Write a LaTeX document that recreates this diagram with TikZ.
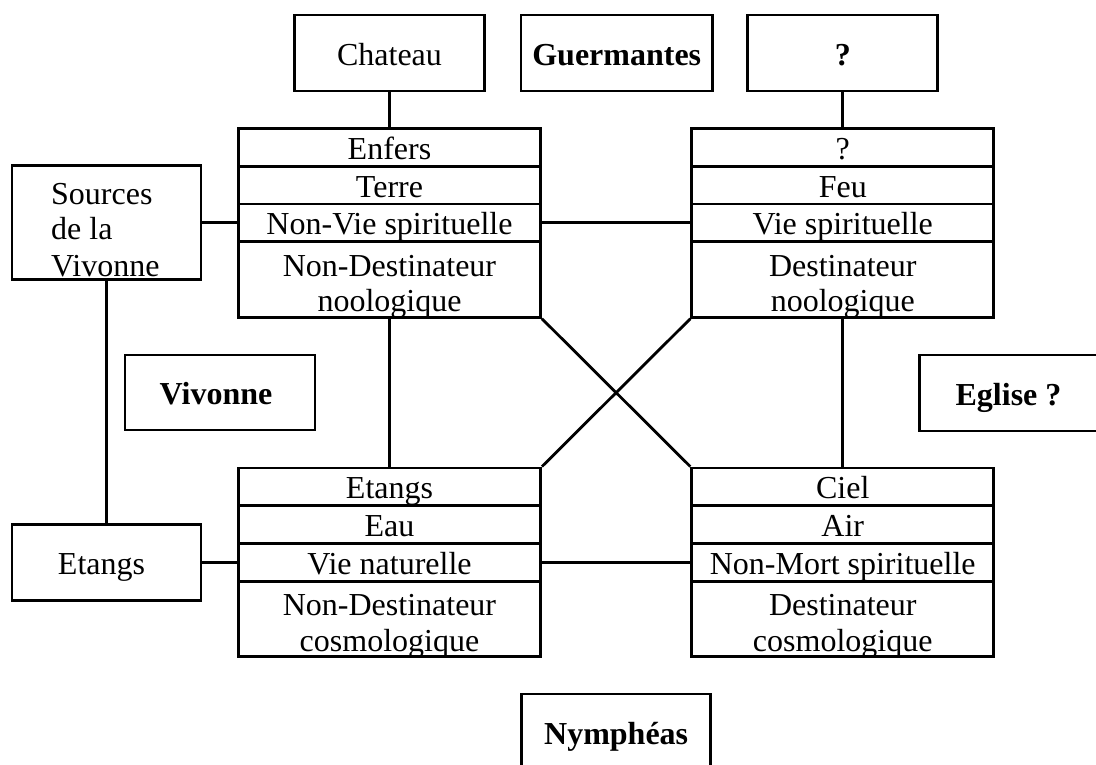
\documentclass[tikz,border=0pt]{standalone}
\usepackage{fontspec}
\setmainfont{Liberation Serif}
\begin{document}
\begin{tikzpicture}[x=1pt,y=-1pt,
  font=\fontsize{32pt}{35pt}\selectfont,
  box/.style={draw=black, line width=2.8pt, inner sep=0pt, text height=25pt, text depth=1pt},
  cell/.style={box, minimum width=302pt, minimum height=37.7pt},
  bigcell/.style={box, minimum width=302pt, minimum height=75.7pt},
  small/.style={box, minimum width=190pt, minimum height=76pt},
  txt/.style={inner sep=0pt},
  link/.style={line width=2.8pt}]
\useasboundingbox (0,0) rectangle (1096,764);
\fill[white] (0,0) rectangle (1096,764);
\clip (0,0) rectangle (1096,764);

% top small boxes
\node[small] (chateau) at (389.5,53) {Chateau};
\node[small, minimum width=191.5pt, font=\fontsize{32pt}{35pt}\selectfont\bfseries] (guerm) at (616.75,53) {Guermantes};
\node[small, font=\fontsize{32pt}{35pt}\selectfont\bfseries] (qtop) at (842.75,53) {?};

% top-left table
\node[cell] (tl1) at (389.5,147.35) {Enfers};
\node[cell] (tl2) at (389.5,185.05) {Terre};
\node[cell] (tl3) at (389.5,222.75) {Non-Vie spirituelle};
\node[bigcell] (tl4) at (389.5,279.45) {};
\node[txt, anchor=base] (tl4a) at ([yshift=2.75pt]tl4.center) {Non-Destinateur};
\node[txt, anchor=base] (tl4b) at ([yshift=-32.25pt]tl4.center) {noologique};

% top-right table
\node[cell] (tr1) at (842.75,147.35) {?};
\node[cell] (tr2) at (842.75,185.05) {Feu};
\node[cell] (tr3) at (842.75,222.75) {Vie spirituelle};
\node[bigcell] (tr4) at (842.75,279.45) {};
\node[txt, anchor=base] (tr4a) at ([yshift=2.75pt]tr4.center) {Destinateur};
\node[txt, anchor=base] (tr4b) at ([yshift=-32.25pt]tr4.center) {noologique};

% bottom-left table
\node[cell] (bl1) at (389.5,486.85) {Etangs};
\node[cell] (bl2) at (389.5,524.55) {Eau};
\node[cell] (bl3) at (389.5,562.25) {Vie naturelle};
\node[bigcell] (bl4) at (389.5,618.95) {};
\node[txt, anchor=base] (bl4a) at ([yshift=3.25pt]bl4.center) {Non-Destinateur};
\node[txt, anchor=base] (bl4b) at ([yshift=-32.7pt]bl4.center) {cosmologique};

% bottom-right table
\node[cell] (br1) at (842.75,486.85) {Ciel};
\node[cell] (br2) at (842.75,524.55) {Air};
\node[cell] (br3) at (842.75,562.25) {Non-Mort spirituelle};
\node[bigcell] (br4) at (842.75,618.95) {};
\node[txt, anchor=base] (br4a) at ([yshift=3.25pt]br4.center) {Destinateur};
\node[txt, anchor=base] (br4b) at ([yshift=-32.7pt]br4.center) {cosmologique};

% side boxes
\node[small, minimum width=189pt, minimum height=114pt] (sources) at (106.5,222.75) {};
\node[txt, anchor=base west] (src1) at (51,204) {Sources};
\node[txt, anchor=base west] (src2) at (51,239) {de la};
\node[txt, anchor=base west] (src3) at (51,276) {Vivonne};
\node[small, minimum width=189pt] (etangs) at (106.5,562.25) {\hspace*{-10pt}Etangs};
\node[small, minimum height=75pt, font=\fontsize{32pt}{35pt}\selectfont\bfseries] (vivonne) at (220,392.5) {\hspace*{-8pt}Vivonne};
\node[small, minimum width=178pt, font=\fontsize{32pt}{35pt}\selectfont\bfseries] (eglise) at (1008.5,393) {Eglise ?};
\node[small, minimum width=189pt, font=\fontsize{32pt}{35pt}\selectfont\bfseries] (nymph) at (616.2,732) {Nymphéas};

% connectors
\draw[link] (chateau.south) -- (tl1.north);
\draw[link] (qtop.south) -- (tr1.north);
\draw[link] (sources.east) -- (tl3.west);
\draw[link] (sources.south) -- (etangs.north);
\draw[link] (etangs.east) -- (bl3.west);
\draw[link] (tl3.east) -- (tr3.west);
\draw[link] (bl3.east) -- (br3.west);
\draw[link] (tl4.south) -- (bl1.north);
\draw[link] (tr4.south) -- (br1.north);
\draw[link] (tl4.south east) -- (br1.north west);
\draw[link] (tr4.south west) -- (bl1.north east);
\end{tikzpicture}
\end{document}
